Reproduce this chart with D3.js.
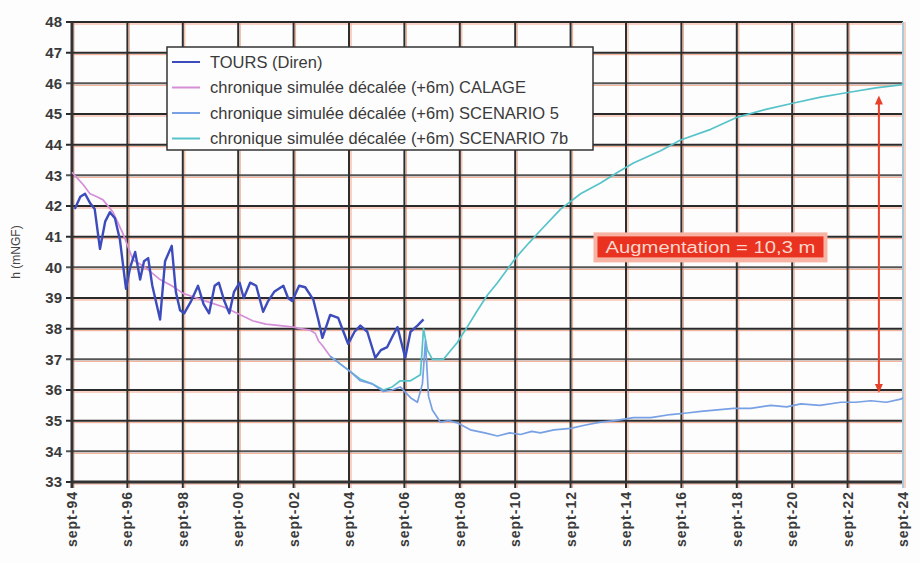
<!DOCTYPE html>
<html>
<head>
<meta charset="utf-8">
<script src="https://cdn.jsdelivr.net/npm/d3@7"></script>
<style>
  body { margin: 0; background: #fdfdfd; }
  svg { display: block; font-family: "Liberation Sans", Arial, sans-serif; }
</style>
</head>
<body>
<svg id="chart" width="920" height="563"></svg>
<script>
// values (decimal year, level in m NGF)
const toursYears = [1994.1, 1994.3, 1994.47, 1994.65, 1994.82, 1995.01, 1995.2, 1995.37, 1995.55, 1995.73, 1995.95, 1996.1, 1996.28, 1996.46, 1996.6, 1996.75, 1996.9, 1997.18, 1997.36, 1997.6, 1997.75, 1997.9, 1998.05, 1998.3, 1998.55, 1998.75, 1998.95, 1999.15, 1999.3, 1999.5, 1999.68, 1999.85, 2000.05, 2000.2, 2000.43, 2000.65, 2000.9, 2001.08, 2001.3, 2001.63, 2001.8, 2001.95, 2002.2, 2002.42, 2002.71, 2002.89, 2003.04, 2003.32, 2003.61, 2003.8, 2003.97, 2004.2, 2004.41, 2004.66, 2004.95, 2005.15, 2005.38, 2005.6, 2005.75, 2006.03, 2006.22, 2006.47, 2006.69];
const toursValues = [41.9, 42.3, 42.4, 42.1, 41.9, 40.6, 41.5, 41.8, 41.6, 40.9, 39.3, 40.0, 40.5, 39.6, 40.2, 40.3, 39.4, 38.3, 40.2, 40.7, 39.2, 38.6, 38.5, 38.9, 39.4, 38.8, 38.5, 39.4, 39.5, 38.9, 38.5, 39.2, 39.5, 39.0, 39.5, 39.4, 38.55, 38.9, 39.2, 39.4, 39.0, 38.9, 39.4, 39.35, 38.95, 38.3, 37.7, 38.45, 38.35, 37.9, 37.5, 37.9, 38.1, 37.9, 37.05, 37.3, 37.4, 37.8, 38.05, 37.05, 37.9, 38.1, 38.3];

const calageYears = [1994.0, 1994.1, 1994.4, 1994.65, 1994.9, 1995.12, 1995.48, 1995.84, 1996.2, 1996.64, 1997.18, 1997.6, 1998.01, 1998.5, 1998.99, 1999.5, 1999.96, 2000.54, 2001.0, 2001.52, 2002.0, 2002.24, 2002.6, 2002.78, 2002.9, 2003.04, 2003.32];
const calageValues = [43.1, 43.0, 42.7, 42.4, 42.3, 42.2, 41.8, 41.1, 40.25, 40.0, 39.6, 39.4, 39.15, 39.0, 38.85, 38.7, 38.5, 38.25, 38.15, 38.1, 38.05, 38.0, 37.95, 37.85, 37.6, 37.45, 37.1];

const scen5Years = [2003.32, 2003.61, 2004.05, 2004.41, 2004.84, 2005.24, 2005.56, 2005.85, 2006.22, 2006.47, 2006.65, 2006.76, 2006.87, 2007.01, 2007.3, 2007.6, 2007.91, 2008.38, 2008.9, 2009.36, 2009.8, 2010.19, 2010.6, 2010.91, 2011.4, 2012.0, 2012.5, 2013.08, 2013.6, 2014.27, 2014.9, 2015.61, 2016.2, 2016.7, 2017.3, 2017.89, 2018.5, 2019.23, 2019.8, 2020.31, 2021.0, 2021.76, 2022.3, 2022.84, 2023.4, 2023.92, 2024.0];
const scen5Values = [37.1, 36.9, 36.6, 36.3, 36.2, 35.95, 36.0, 36.1, 35.75, 35.6, 36.2, 37.6, 35.8, 35.35, 34.95, 35.0, 34.93, 34.7, 34.6, 34.5, 34.6, 34.55, 34.65, 34.6, 34.7, 34.75, 34.85, 34.95, 35.0, 35.1, 35.1, 35.2, 35.25, 35.3, 35.35, 35.4, 35.4, 35.5, 35.45, 35.55, 35.5, 35.6, 35.6, 35.65, 35.6, 35.7, 35.75];

const scen7bYears = [2003.32, 2003.61, 2004.05, 2004.41, 2004.84, 2005.24, 2005.56, 2005.85, 2006.22, 2006.4, 2006.58, 2006.69, 2006.83, 2007.01, 2007.41, 2007.91, 2008.3, 2008.64, 2009.0, 2009.36, 2010.01, 2010.5, 2010.91, 2011.64, 2012.36, 2013.08, 2013.7, 2014.27, 2015.25, 2015.97, 2017.06, 2018.03, 2019.05, 2020.02, 2021.03, 2022.01, 2023.02, 2023.92, 2024.0];
const scen7bValues = [37.1, 36.9, 36.6, 36.35, 36.2, 36.0, 36.1, 36.3, 36.3, 36.4, 36.5, 38.0, 37.3, 37.0, 37.0, 37.55, 38.1, 38.6, 39.1, 39.5, 40.3, 40.8, 41.2, 41.9, 42.4, 42.75, 43.1, 43.4, 43.8, 44.15, 44.5, 44.9, 45.15, 45.35, 45.55, 45.7, 45.85, 45.95, 46.0];

const seriesNames = ["TOURS (Diren)", "chronique simulée décalée (+6m) CALAGE", "chronique simulée décalée (+6m) SCENARIO 5", "chronique simulée décalée (+6m) SCENARIO 7b"];
const seriesColors = ["#3d4cbc", "#d48fd6", "#78a0e4", "#55c3c9"];

const xTickYears = d3.range(1994, 2025, 2);
const yTicks = d3.range(33, 49, 1);

const arrowYear = 2023.13;
const arrowFrom = 35.9;
const arrowTo = 45.6;
const noteText = "Augmentation = 10,3 m";
const noteYear = 2017.05;
const noteValue = 40.65;

// layout
const margin = {left: 72, top: 22, right: 17, bottom: 81};
const width = 920, height = 563;
const svg = d3.select("#chart");
const plotW = width - margin.left - margin.right;
const plotH = height - margin.top - margin.bottom;

const x = d3.scaleLinear().domain([1994, 2024]).range([margin.left, margin.left + plotW]);
const y = d3.scaleLinear().domain([33, 48]).range([margin.top + plotH, margin.top]);

const grid = svg.append("g");
// faint orange fringe like the scan
grid.selectAll("line.hf").data(yTicks).join("line")
    .attr("x1", margin.left).attr("x2", x(2024))
    .attr("y1", d => y(d) + 2).attr("y2", d => y(d) + 2)
    .attr("stroke", "#f2a58a").attr("stroke-width", 1);
grid.selectAll("line.vf").data(xTickYears).join("line")
    .attr("x1", d => x(d) + 2).attr("x2", d => x(d) + 2)
    .attr("y1", y(48)).attr("y2", y(33) + 6)
    .attr("stroke", "#f2a58a").attr("stroke-width", 1);
grid.selectAll("line.h").data(yTicks).join("line")
    .attr("x1", margin.left - 6).attr("x2", x(2024))
    .attr("y1", d => y(d)).attr("y2", d => y(d))
    .attr("stroke", (d, i) => i % 3 === 1 ? "#555" : "#2a2a2a")
    .attr("stroke-width", 2);
grid.selectAll("line.v").data(xTickYears.slice(1, -1)).join("line")
    .attr("x1", d => x(d)).attr("x2", d => x(d))
    .attr("y1", y(48)).attr("y2", y(33) + 6)
    .attr("stroke", "#2e2e2e")
    .attr("stroke-width", 2);
// axis frame
svg.append("line")
    .attr("x1", x(1994)).attr("x2", x(1994)).attr("y1", y(48)).attr("y2", y(33) + 6)
    .attr("stroke", "#333").attr("stroke-width", 3);
svg.append("line")
    .attr("x1", x(1994)).attr("x2", x(2024)).attr("y1", y(33)).attr("y2", y(33))
    .attr("stroke", "#333").attr("stroke-width", 3);
svg.append("line")
    .attr("x1", x(2024)).attr("x2", x(2024)).attr("y1", y(48)).attr("y2", y(33) + 6)
    .attr("stroke", "#a9c9dc").attr("stroke-width", 2);

// tick labels
svg.append("g").selectAll("text").data(yTicks).join("text")
    .attr("x", margin.left - 10)
    .attr("y", d => y(d))
    .attr("dy", "0.36em")
    .attr("text-anchor", "end")
    .attr("font-size", 15).attr("font-weight", "bold")
    .attr("fill", "#3a3a3a")
    .text(d => d);

svg.append("g").selectAll("text").data(xTickYears).join("text")
    .attr("transform", d => `translate(${x(d)},${y(33) + 9}) rotate(-90)`)
    .attr("dy", "0.36em")
    .attr("text-anchor", "end")
    .attr("font-size", 14).attr("font-weight", "bold")
    .attr("letter-spacing", 1)
    .attr("fill", "#3a3a3a")
    .text(d => "sept-" + String(d % 100).padStart(2, "0"));

svg.append("text")
    .attr("transform", `translate(16,${y(40.5)}) rotate(-90)`)
    .attr("text-anchor", "middle")
    .attr("dy", "0.35em")
    .attr("font-size", 12)
    .attr("fill", "#444")
    .text("h (mNGF)");

// series
const line = d3.line().x(d => x(d[0])).y(d => y(d[1]));
const series = [
    [toursYears, toursValues],
    [calageYears, calageValues],
    [scen5Years, scen5Values],
    [scen7bYears, scen7bValues]
];
const drawOrder = [3, 2, 1, 0];
drawOrder.forEach(i => {
    const [ys, vs] = series[i];
    svg.append("path")
        .datum(ys.map((t, j) => [t, vs[j]]))
        .attr("fill", "none")
        .attr("stroke", seriesColors[i])
        .attr("stroke-width", i === 0 ? 2.4 : 1.7)
        .attr("stroke-linejoin", "round")
        .attr("d", line);
});

// legend
const legend = svg.append("g").attr("transform", "translate(167,47)");
legend.append("rect")
    .attr("width", 426).attr("height", 103)
    .attr("fill", "#fdfdfd").attr("stroke", "#333").attr("stroke-width", 1.5);
seriesNames.forEach((name, i) => {
    const row = legend.append("g").attr("transform", `translate(0,${15 + i * 25.5})`);
    row.append("line").attr("x1", 5).attr("x2", 33)
        .attr("stroke", seriesColors[i]).attr("stroke-width", 2);
    row.append("text").attr("x", 43).attr("dy", "0.35em")
        .attr("font-size", 16.5).attr("fill", "#3a3a3a")
        .text(name);
});

// red annotation
const note = svg.append("g").attr("transform", `translate(${x(noteYear)},${y(noteValue)})`);
note.append("rect")
    .attr("x", -117).attr("y", -15).attr("width", 234).attr("height", 30)
    .attr("fill", "#f7b3a3");
note.append("rect")
    .attr("x", -113).attr("y", -11).attr("width", 226).attr("height", 21)
    .attr("fill", "#e9321f");
note.append("text")
    .attr("text-anchor", "middle").attr("dy", "0.32em")
    .attr("font-size", 16).attr("fill", "#fbd6cc")
    .attr("textLength", 210).attr("lengthAdjust", "spacingAndGlyphs")
    .text(noteText);

const arrowColor = "#e8402a";
svg.append("line")
    .attr("x1", x(arrowYear)).attr("x2", x(arrowYear))
    .attr("y1", y(arrowTo) + 6).attr("y2", y(arrowFrom) - 6)
    .attr("stroke", arrowColor).attr("stroke-width", 2);
[[arrowTo, -1], [arrowFrom, 1]].forEach(([v, dir]) => {
    const tx = x(arrowYear), ty = y(v);
    svg.append("path")
        .attr("d", `M${tx},${ty} L${tx - 4},${ty - dir * 9} L${tx + 4},${ty - dir * 9} Z`)
        .attr("fill", arrowColor);
});
</script>
</body>
</html>
